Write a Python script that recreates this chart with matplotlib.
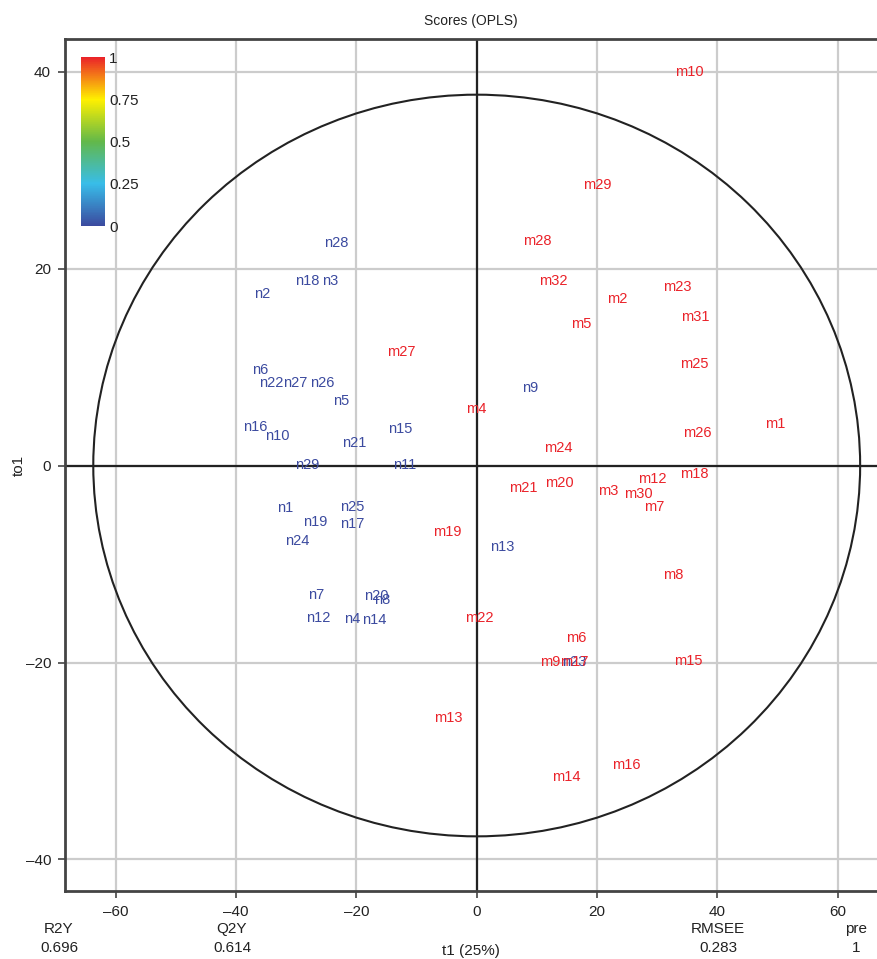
import matplotlib
matplotlib.use("Agg")
import matplotlib.pyplot as plt
from matplotlib.colors import LinearSegmentedColormap, Normalize
from matplotlib.cm import ScalarMappable
from matplotlib.patches import Ellipse

plt.rcParams['font.family'] = ['Liberation Sans', 'DejaVu Sans']

# ---- data ----
n_labels = ["n28", "n18", "n3", "n2", "n6", "n22", "n27", "n26", "n5", "n16",
            "n10", "n21", "n15", "n29", "n11", "n9", "n1", "n25", "n17", "n19",
            "n24", "n13", "n7", "n20", "n8", "n12", "n4", "n14", "n23"]
n_t1 = [-23.4, -28.2, -24.3, -35.6, -35.9, -34.1, -30.2, -25.7, -22.5, -36.8,
        -33.1, -20.4, -12.7, -28.2, -11.9, 8.9, -31.8, -20.7, -20.7, -26.8,
        -29.8, 4.2, -26.7, -16.6, -15.7, -26.4, -20.7, -17.1, 16.2]
n_to1 = [22.6, 18.7, 18.7, 17.4, 9.7, 8.4, 8.4, 8.4, 6.5, 3.9,
         3.0, 2.3, 3.7, 0.05, 0.05, 7.9, -4.35, -4.25, -5.9, -5.7,
         -7.7, -8.25, -13.1, -13.2, -13.7, -15.5, -15.6, -15.7, -19.9]

m_labels = ["m10", "m29", "m28", "m32", "m2", "m23", "m31", "m5", "m25", "m27",
            "m4", "m1", "m26", "m24", "m18", "m12", "m21", "m20", "m3", "m30",
            "m7", "m19", "m8", "m22", "m6", "m9", "m17", "m15", "m13", "m16", "m14"]
m_t1 = [35.3, 20.0, 10.1, 12.8, 23.4, 33.3, 36.3, 17.4, 36.1, -12.5,
        0.0, 49.6, 36.6, 13.5, 36.2, 29.1, 7.8, 13.8, 21.8, 26.8,
        29.5, -4.85, 32.6, 0.4, 16.5, 12.2, 16.2, 35.2, -4.7, 24.8, 14.9]
m_to1 = [40.0, 28.5, 22.8, 18.7, 16.9, 18.1, 15.1, 14.35, 10.3, 11.5,
         5.7, 4.2, 3.3, 1.8, -0.9, -1.4, -2.3, -1.75, -2.6, -2.9,
         -4.2, -6.7, -11.1, -15.5, -17.5, -19.9, -19.9, -19.8, -25.6, -30.4, -31.6]

# class values (0 = n group, 1 = m group), colour-coded
n_class = 0.0
m_class = 1.0

# Hotelling ellipse semi-axes
ell_a = 63.7
ell_b = 37.65

x_ticks = [-60, -40, -20, 0, 20, 40, 60]
y_ticks = [-40, -20, 0, 20, 40]
cbar_ticks = [0, 0.25, 0.5, 0.75, 1]
cbar_ticklabels = ["0", "0.25", "0.5", "0.75", "1"]

stats_names = ["R2Y", "Q2Y", "RMSEE", "pre"]
stats_values = ["0.696", "0.614", "0.283", "1"]

# ---- colormap ----
cmap = LinearSegmentedColormap.from_list(
    "simca", [(0.0, "#3b4a9f"), (0.25, "#38bde9"), (0.5, "#62b84a"),
              (0.75, "#fff000"), (1.0, "#ea2229")])

fig = plt.figure(figsize=(8.77, 9.59), dpi=100)
ax = fig.add_axes([0.0741, 0.0709, 0.9259, 0.8884])
ax.set_xlim(-68.4, 66.5)
ax.set_ylim(-43.2, 43.3)

ax.set_xticks(x_ticks)
ax.set_yticks(y_ticks)
ax.set_xticklabels([("\u2013" + str(-v) if v < 0 else str(v)) for v in x_ticks])
ax.set_yticklabels([("\u2013" + str(-v) if v < 0 else str(v)) for v in y_ticks])
ax.tick_params(labelsize=11, length=5, width=1.2, color="#444444", labelcolor="#222222", pad=5)
ax.grid(True, color="#cccccc", lw=1.6)
ax.set_axisbelow(True)

for s in ["top", "left", "bottom"]:
    ax.spines[s].set_color("#444444")
    ax.spines[s].set_linewidth(2)
ax.spines["right"].set_visible(False)

ax.axhline(0, color="#222222", lw=1.6, zorder=2)
ax.axvline(0, color="#222222", lw=1.6, zorder=2)

ax.add_patch(Ellipse((0, 0), 2 * ell_a, 2 * ell_b, fill=False, edgecolor="#222222", lw=1.5, zorder=2))

for lab, x, y in zip(n_labels, n_t1, n_to1):
    ax.text(x, y, lab, color=cmap(n_class), fontsize=10.5, ha="center", va="center", zorder=3)
for lab, x, y in zip(m_labels, m_t1, m_to1):
    ax.text(x, y, lab, color=cmap(m_class), fontsize=10.5, ha="center", va="center", zorder=3)

ax.set_title("Scores (OPLS)", fontsize=10, color="#222222", pad=10)
ax.set_ylabel("to1", fontsize=11, color="#222222", labelpad=0)
ax.set_xlabel("t1 (25%)", fontsize=11, color="#222222", labelpad=18)

# colorbar inside plot
cax = fig.add_axes([0.0924, 0.7643, 0.0274, 0.1762])
cb = fig.colorbar(ScalarMappable(norm=Normalize(0, 1), cmap=cmap), cax=cax, ticks=cbar_ticks)
cb.set_ticklabels(cbar_ticklabels)
cb.outline.set_visible(False)
cax.tick_params(length=0, labelsize=11, labelcolor="#222222", pad=3)

# stats below the plot
stat_x = [59, 232, 718, 856]
for name, val, px in zip(stats_names, stats_values, stat_x):
    fig.text(px / 877, 1 - 929 / 959, name, ha="center", va="center", fontsize=11, color="#222222")
    fig.text(px / 877, 1 - 948 / 959, val, ha="center", va="center", fontsize=11, color="#222222")

fig.savefig("out.png", dpi=100)
